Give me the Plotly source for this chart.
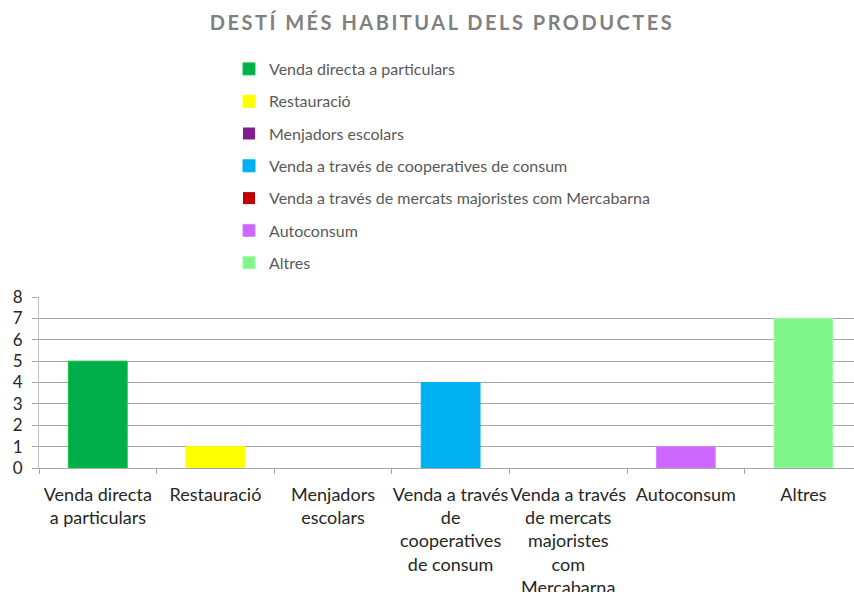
import plotly.graph_objects as go

categories = [
    "Venda directa a particulars",
    "Restauració",
    "Menjadors escolars",
    "Venda a través de cooperatives de consum",
    "Venda a través de mercats majoristes com Mercabarna",
    "Autoconsum",
    "Altres",
]
tick_labels = [
    "Venda directa<br>a particulars",
    "Restauració",
    "Menjadors<br>escolars",
    "Venda a través<br>de<br>cooperatives<br>de consum",
    "Venda a través<br>de mercats<br>majoristes<br>com<br>Mercabarna",
    "Autoconsum",
    "Altres",
]
values = [5, 1, 0, 4, 0, 1, 7]
colors = ["#00AF4C", "#FFFF00", "#7F1F8F", "#00B0F0", "#C00000", "#CC66FF", "#80F58A"]
edge_colors = ["#10C440", "#FFFF00", "#7F1F8F", "#00B0F0", "#C00000", "#D080FF", "#A0FAA8"]

fig = go.Figure()
for i, (cat, val, col, edge) in enumerate(zip(categories, values, colors, edge_colors)):
    fig.add_trace(go.Bar(
        x=[cat], y=[val], name=cat,
        marker=dict(color=col, line=dict(width=1 if val else 0, color=edge)),
        legendgroup=f"g{i}",
        hoverinfo="x+y",
    ))

FONT = "Lato"
fig.update_layout(
    width=854, height=592,
    paper_bgcolor="white", plot_bgcolor="white",
    margin=dict(l=39, r=0, t=297, b=124, autoexpand=False),
    barmode="overlay", bargap=0.5,
    font=dict(family=FONT, color="#404040"),
    title=dict(
        text='<span style="letter-spacing:2.5px"><b>DESTÍ MÉS HABITUAL DELS PRODUCTES</b></span>',
        x=442 / 854, xref="container", xanchor="center",
        y=1 - 23 / 592, yref="container", yanchor="middle",
        font=dict(family=FONT, size=20, color="#808080"),
    ),
    legend=dict(
        orientation="v",
        x=(229 - 39) / 815, xanchor="left",
        y=1 + (297 - 52) / 171, yanchor="top",
        font=dict(family=FONT, size=16, color="#595959"),
        tracegroupgap=8.5,
        itemclick=False, itemdoubleclick=False,
        bgcolor="rgba(0,0,0,0)",
    ),
    showlegend=True,
)
fig.update_xaxes(
    type="category",
    range=[-0.5, 6.43],
    tickmode="array", tickvals=categories, ticktext=tick_labels,
    tickson="boundaries",
    ticks="outside", ticklen=5, tickcolor="#A6A6A6",
    showline=True, linecolor="#A6A6A6", linewidth=1,
    showgrid=False,
    tickangle=0,
    automargin=False,
    ticklabelstandoff=10,
    tickfont=dict(family=FONT, size=18, color="#262626"),
)
fig.update_yaxes(
    range=[0, 8], dtick=1,
    showgrid=True, gridcolor="#A6A6A6", gridwidth=1,
    showline=True, linecolor="#BFBFBF", linewidth=1,
    ticks="outside", ticklen=6, tickcolor="#A6A6A6",
    zeroline=False,
    automargin=False,
    ticklabelstandoff=6,
    tickfont=dict(family=FONT, size=17, color="#262626"),
)

fig.write_html(
    "out.html",
    config={"displayModeBar": False},
    post_script="document.body.style.margin='0';document.body.style.overflow='hidden';",
)
